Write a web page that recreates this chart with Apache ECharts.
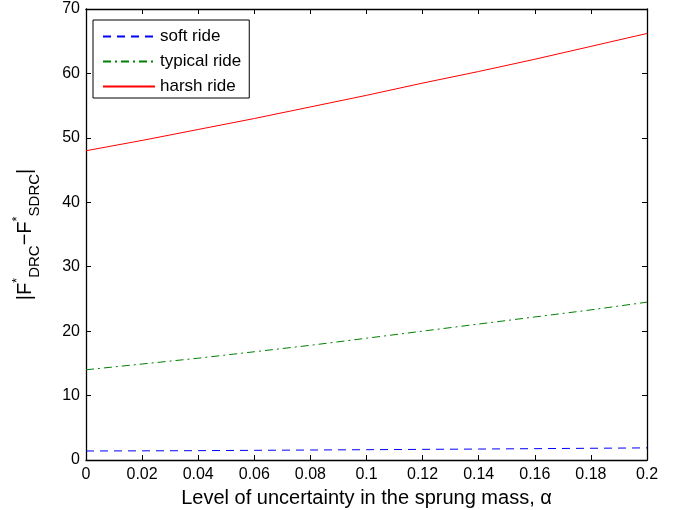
<!DOCTYPE html>
<html><head><meta charset="utf-8">
<script src="https://cdn.jsdelivr.net/npm/echarts@6/dist/echarts.min.js"></script>
<style>html,body{margin:0;padding:0;background:#fff}#c{width:673px;height:510px}</style>
</head><body><div id="c"></div>
<script>
const alphas = [0, 0.02, 0.04, 0.06, 0.08, 0.1, 0.12, 0.14, 0.16, 0.18, 0.2];
const softRide = [1.4, 1.42, 1.45, 1.5, 1.55, 1.6, 1.65, 1.7, 1.76, 1.82, 1.88];
const typicalRide = [14.0, 14.9, 15.8, 16.8, 17.8, 18.9, 20.0, 21.1, 22.2, 23.3, 24.5];
const harshRide = [48.0, 49.6, 51.3, 53.0, 54.8, 56.6, 58.5, 60.3, 62.2, 64.2, 66.2];
const seriesNames = ['soft ride', 'typical ride', 'harsh ride'];
const xTicks = [0, 0.02, 0.04, 0.06, 0.08, 0.1, 0.12, 0.14, 0.16, 0.18, 0.2];
const yTicks = [0, 10, 20, 30, 40, 50, 60, 70];

const font = 'Liberation Sans, Arial, Helvetica, sans-serif';
const chart = echarts.init(document.getElementById('c'), null, {renderer: 'canvas'});
const pair = arr => alphas.map((a, i) => [a, arr[i]]);
const axisCommon = {
  axisLine: {show: true, onZero: false, lineStyle: {color: '#000', width: 1.3}},
  axisTick: {show: true, inside: true, length: 5, lineStyle: {color: '#000', width: 1}},
  splitLine: {show: false}
};
chart.setOption({
  animation: false,
  backgroundColor: '#fff',
  grid: {left: 86, right: 26, top: 9, bottom: 50, containLabel: false, outerBoundsMode: 'none'},
  xAxis: [
    Object.assign({type: 'value', min: 0, max: 0.2, interval: 0.02, position: 'bottom',
      axisLabel: {color: '#000', fontFamily: font, fontSize: 16, margin: 7,
        formatter: v => String(+v.toFixed(2))},
      name: 'Level of uncertainty in the sprung mass, α', nameLocation: 'middle', nameGap: 28,
      nameTextStyle: {color: '#000', fontFamily: font, fontSize: 20}}, axisCommon),
    Object.assign({type: 'value', min: 0, max: 0.2, interval: 0.02, position: 'top',
      axisLabel: {show: false}}, axisCommon)
  ],
  yAxis: [
    Object.assign({type: 'value', min: 0, max: 70, interval: 10, position: 'left',
      axisLabel: {color: '#000', fontFamily: font, fontSize: 16, margin: 6},
      name: '|F{sup|*}{sub|DRC}−F{sup|*}{sub|SDRC}|', nameLocation: 'middle', nameGap: 44, nameRotate: 90,
      nameTextStyle: {color: '#000', fontFamily: font, fontSize: 20, lineHeight: 34,
        rich: {
          sup: {fontSize: 13, fontFamily: font, color: '#000', verticalAlign: 'top', lineHeight: 34, padding: [3, 0, 0, 0]},
          sub: {fontSize: 15, fontFamily: font, color: '#000', verticalAlign: 'bottom', lineHeight: 34}
        }}}, axisCommon),
    Object.assign({type: 'value', min: 0, max: 70, interval: 10, position: 'right',
      axisLabel: {show: false}}, axisCommon)
  ],
  legend: {
    show: true, orient: 'vertical', left: 93, top: 20,
    data: seriesNames.map(n => ({name: n, itemStyle: {opacity: 0}})),
    itemWidth: 52, itemHeight: 12, itemGap: 8,
    borderColor: '#000', borderWidth: 1, padding: [8, 8, 3, 9],
    backgroundColor: '#fff',
    textStyle: {color: '#000', fontFamily: font, fontSize: 17}
  },
  series: [
    {name: seriesNames[0], type: 'line', data: pair(softRide), symbol: 'none', smooth: false,
      color: '#0000ff', lineStyle: {color: '#0000ff', width: 1, type: [8, 6]}},
    {name: seriesNames[1], type: 'line', data: pair(typicalRide), symbol: 'none',
      color: '#008000', lineStyle: {color: '#008000', width: 1, type: [8, 4, 2, 4]}},
    {name: seriesNames[2], type: 'line', data: pair(harshRide), symbol: 'none',
      color: '#ff0000', lineStyle: {color: '#ff0000', width: 1, type: 'solid'}}
  ]
});
</script></body></html>
